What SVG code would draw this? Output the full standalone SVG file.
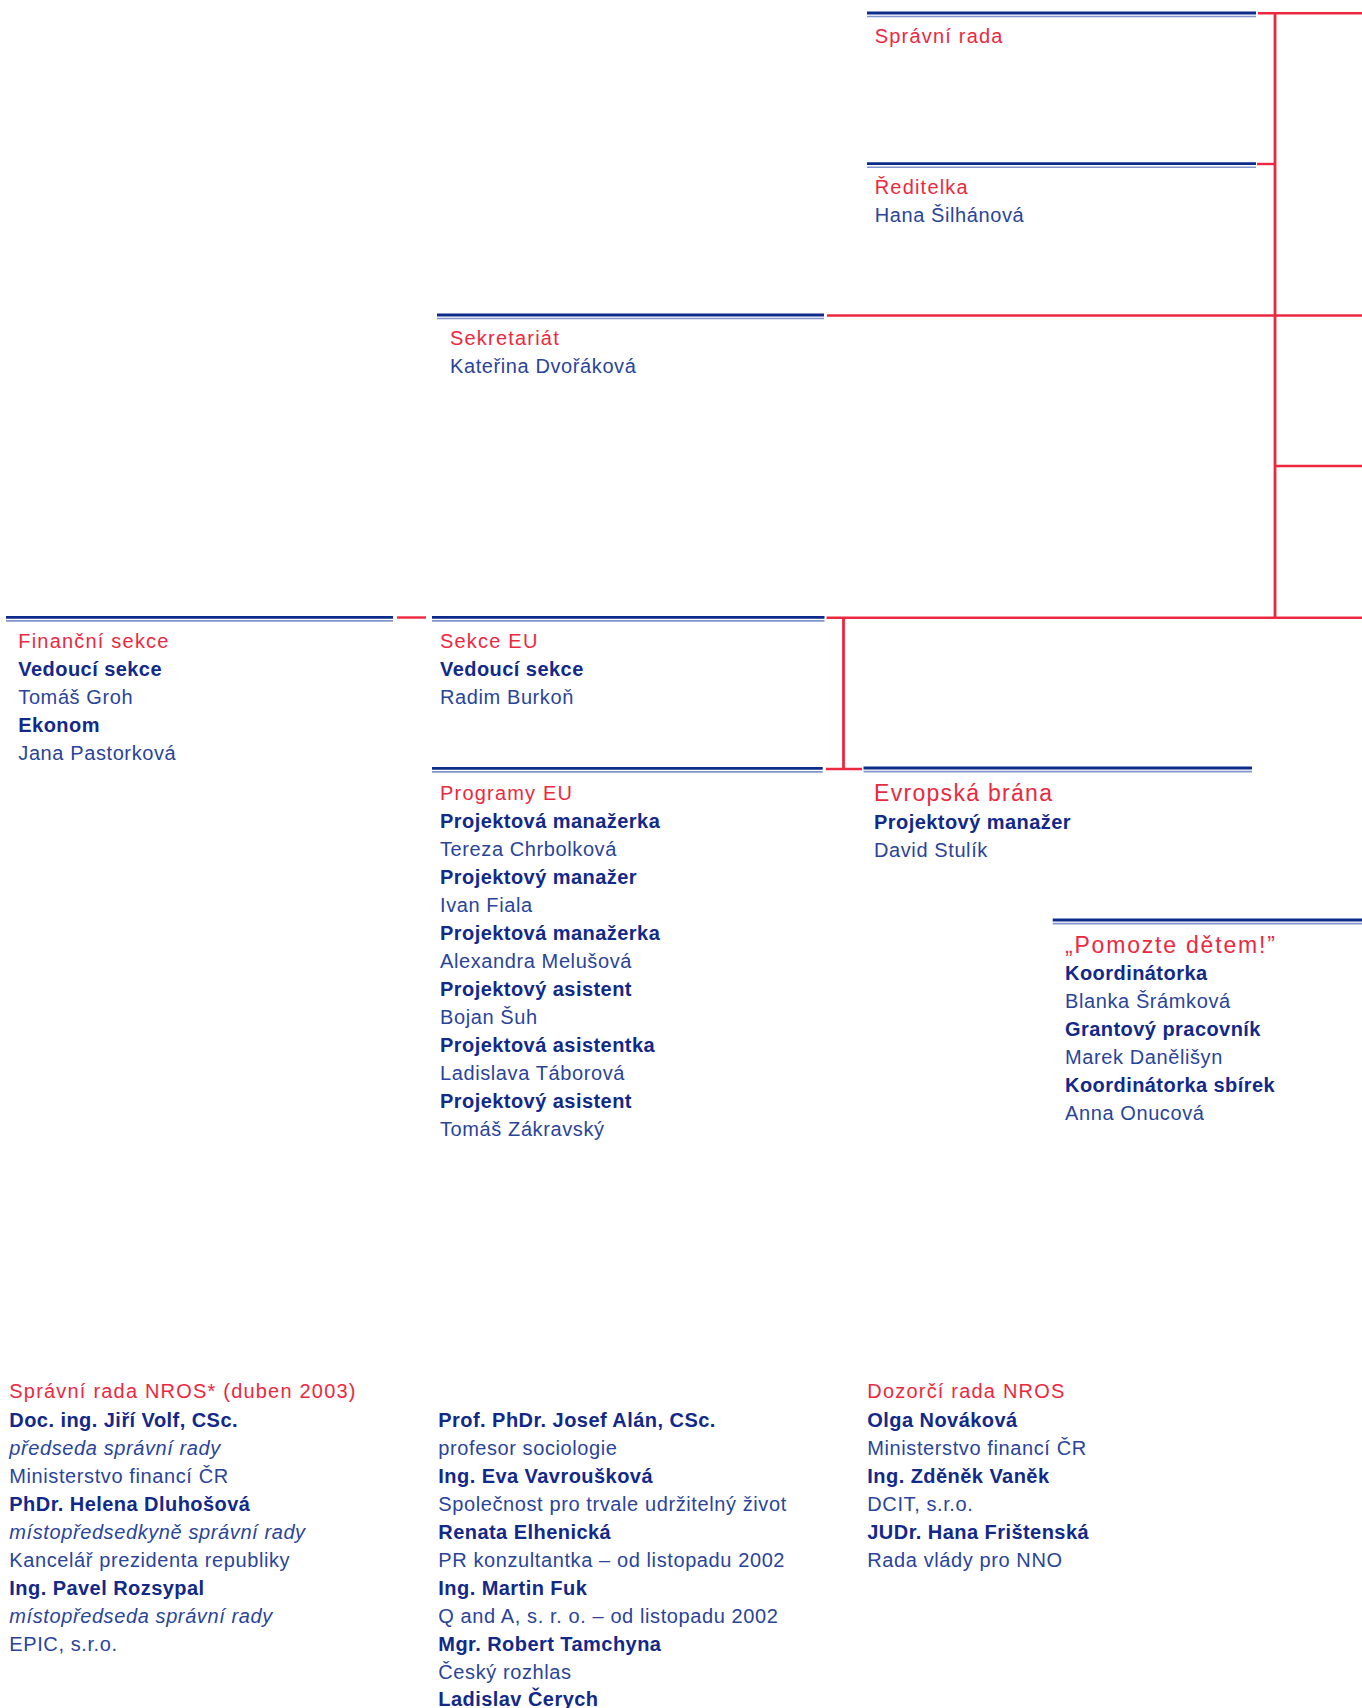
<svg xmlns="http://www.w3.org/2000/svg" width="1362" height="1708" viewBox="0 0 1362 1708">
<style>
text{font-family:"Liberation Sans",Arial,sans-serif;font-size:20px}
.h{fill:#ec2840;letter-spacing:1.2px}
.hl{fill:#ec2840;font-size:23px;letter-spacing:1.3px}
.hx{fill:#ec2840;font-size:23px;letter-spacing:1.8px}
.b{fill:#12298a;font-weight:bold;letter-spacing:0.45px}
.r{fill:#2a4499;letter-spacing:0.6px}
.i{fill:#2a4499;font-style:italic;letter-spacing:0.6px}
.dk{stroke:#0d2b8a;stroke-width:2.8}
.lt{stroke:#8295cb;stroke-width:1.6}
.con{stroke:#ec2840;stroke-width:2.4;fill:none}
.trunk{stroke:#ec2840;stroke-width:2.8;fill:none}
</style>
<rect width="1362" height="1708" fill="#ffffff"/>
<g id="connectors">
<line class="con" x1="1258" y1="13.3" x2="1362" y2="13.3"/>
<line class="trunk" x1="1275" y1="12" x2="1275" y2="619"/>
<line class="con" x1="1257" y1="164" x2="1275" y2="164"/>
<line class="con" x1="827" y1="315.5" x2="1362" y2="315.5"/>
<line class="con" x1="1275" y1="466" x2="1362" y2="466"/>
<line class="con" x1="826.5" y1="617.7" x2="1362" y2="617.7"/>
<line class="con" x1="397" y1="617.5" x2="426" y2="617.5"/>
<line class="trunk" x1="843.5" y1="617" x2="843.5" y2="769"/>
<line class="con" x1="826" y1="769" x2="862" y2="769"/>
</g>
<g id="spravni-rada">
<line class="dk" x1="867" y1="13" x2="1256" y2="13"/>
<line class="lt" x1="867" y1="16.5" x2="1256" y2="16.5"/>
<text class="h" x="874.7" y="43">Správní rada</text>
</g>
<g id="reditelka">
<line class="dk" x1="867" y1="163.7" x2="1256" y2="163.7"/>
<line class="lt" x1="867" y1="167.2" x2="1256" y2="167.2"/>
<text class="h" x="874.7" y="194">Ředitelka</text>
<text class="r" x="874.7" y="221.7">Hana Šilhánová</text>
</g>
<g id="sekretariat">
<line class="dk" x1="437" y1="315" x2="824" y2="315"/>
<line class="lt" x1="437" y1="318.5" x2="824" y2="318.5"/>
<text class="h" x="450" y="345">Sekretariát</text>
<text class="r" x="450" y="372.7">Kateřina Dvořáková</text>
</g>
<g id="financni-sekce">
<line class="dk" x1="6" y1="617.3" x2="393" y2="617.3"/>
<line class="lt" x1="6" y1="620.9" x2="393" y2="620.9"/>
<text class="h" x="18.3" y="647.7">Finanční sekce</text>
<text class="b" x="18.3" y="676">Vedoucí sekce</text>
<text class="r" x="18.3" y="704">Tomáš Groh</text>
<text class="b" x="18.3" y="732">Ekonom</text>
<text class="r" x="18.3" y="760">Jana Pastorková</text>
</g>
<g id="sekce-eu">
<line class="dk" x1="432" y1="617.3" x2="824.5" y2="617.3"/>
<line class="lt" x1="432" y1="620.9" x2="824.5" y2="620.9"/>
<text class="h" x="440" y="647.7">Sekce EU</text>
<text class="b" x="440" y="676">Vedoucí sekce</text>
<text class="r" x="440" y="704">Radim Burkoň</text>
</g>
<g id="programy-eu">
<line class="dk" x1="432" y1="768.3" x2="822.7" y2="768.3"/>
<line class="lt" x1="432" y1="771.9" x2="822.7" y2="771.9"/>
<text class="h" x="440" y="800">Programy EU</text>
<text class="b" x="440" y="828">Projektová manažerka</text>
<text class="r" x="440" y="856">Tereza Chrbolková</text>
<text class="b" x="440" y="884">Projektový manažer</text>
<text class="r" x="440" y="912">Ivan Fiala</text>
<text class="b" x="440" y="940">Projektová manažerka</text>
<text class="r" x="440" y="968">Alexandra Melušová</text>
<text class="b" x="440" y="996">Projektový asistent</text>
<text class="r" x="440" y="1024">Bojan Šuh</text>
<text class="b" x="440" y="1052">Projektová asistentka</text>
<text class="r" x="440" y="1080">Ladislava Táborová</text>
<text class="b" x="440" y="1108">Projektový asistent</text>
<text class="r" x="440" y="1136">Tomáš Zákravský</text>
</g>
<g id="evropska-brana">
<line class="dk" x1="863.5" y1="768" x2="1252" y2="768"/>
<line class="lt" x1="863.5" y1="771.6" x2="1252" y2="771.6"/>
<text class="hl" x="874" y="801">Evropská brána</text>
<text class="b" x="874" y="829.3">Projektový manažer</text>
<text class="r" x="874" y="856.5">David Stulík</text>
</g>
<g id="pomozte-detem">
<line class="dk" x1="1052.7" y1="920" x2="1362" y2="920"/>
<line class="lt" x1="1052.7" y1="923.6" x2="1362" y2="923.6"/>
<text class="hx" x="1065" y="952.7">„Pomozte dětem!”</text>
<text class="b" x="1065" y="980.3">Koordinátorka</text>
<text class="r" x="1065" y="1008">Blanka Šrámková</text>
<text class="b" x="1065" y="1036">Grantový pracovník</text>
<text class="r" x="1065" y="1064">Marek Danělišyn</text>
<text class="b" x="1065" y="1092">Koordinátorka sbírek</text>
<text class="r" x="1065" y="1119.5">Anna Onucová</text>
</g>
<g id="spravni-rada-nros">
<text class="h" x="9.3" y="1398.3">Správní rada NROS* (duben 2003)</text>
<text class="b" x="9.3" y="1426.5">Doc. ing. Jiří Volf, CSc.</text>
<text class="i" x="9.3" y="1454.5">předseda správní rady</text>
<text class="r" x="9.3" y="1482.5">Ministerstvo financí ČR</text>
<text class="b" x="9.3" y="1510.5">PhDr. Helena Dluhošová</text>
<text class="i" x="9.3" y="1538.5">místopředsedkyně správní rady</text>
<text class="r" x="9.3" y="1566.5">Kancelář prezidenta republiky</text>
<text class="b" x="9.3" y="1594.5">Ing. Pavel Rozsypal</text>
<text class="i" x="9.3" y="1622.5">místopředseda správní rady</text>
<text class="r" x="9.3" y="1650.5">EPIC, s.r.o.</text>
</g>
<g id="spravni-rada-nros-2">
<text class="b" x="438.3" y="1426.5">Prof. PhDr. Josef Alán, CSc.</text>
<text class="r" x="438.3" y="1454.5">profesor sociologie</text>
<text class="b" x="438.3" y="1482.5">Ing. Eva Vavroušková</text>
<text class="r" x="438.3" y="1510.5">Společnost pro trvale udržitelný život</text>
<text class="b" x="438.3" y="1538.5">Renata Elhenická</text>
<text class="r" x="438.3" y="1566.5">PR konzultantka – od listopadu 2002</text>
<text class="b" x="438.3" y="1594.5">Ing. Martin Fuk</text>
<text class="r" x="438.3" y="1622.5">Q and A, s. r. o. – od listopadu 2002</text>
<text class="b" x="438.3" y="1650.5">Mgr. Robert Tamchyna</text>
<text class="r" x="438.3" y="1678.5">Český rozhlas</text>
<text class="b" x="438.3" y="1706">Ladislav Čerych</text>
</g>
<g id="dozorci-rada">
<text class="h" x="867.3" y="1398.3">Dozorčí rada NROS</text>
<text class="b" x="867.3" y="1426.5">Olga Nováková</text>
<text class="r" x="867.3" y="1454.5">Ministerstvo financí ČR</text>
<text class="b" x="867.3" y="1482.5">Ing. Zděněk Vaněk</text>
<text class="r" x="867.3" y="1510.5">DCIT, s.r.o.</text>
<text class="b" x="867.3" y="1538.5">JUDr. Hana Frištenská</text>
<text class="r" x="867.3" y="1566.5">Rada vlády pro NNO</text>
</g>
</svg>
